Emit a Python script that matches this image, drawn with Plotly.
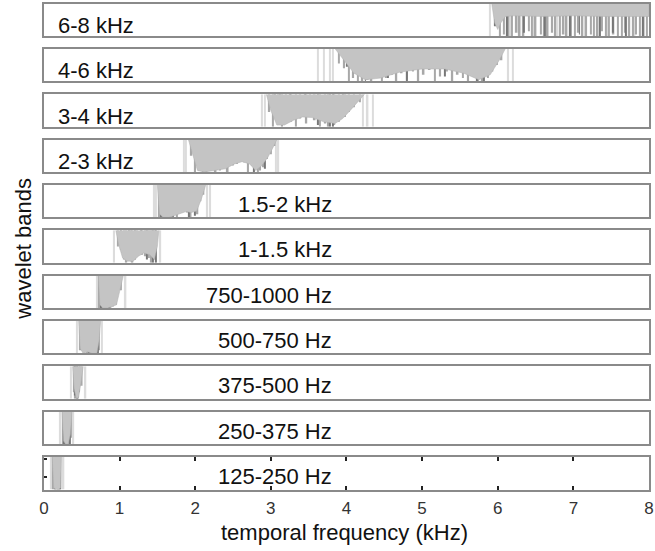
import plotly.graph_objects as go

# ---------------- data ----------------
band_labels = ["6-8 kHz", "4-6 kHz", "3-4 kHz", "2-3 kHz", "1.5-2 kHz", "1-1.5 kHz",
               "750-1000 Hz", "500-750 Hz", "375-500 Hz", "250-375 Hz", "125-250 Hz"]

# envelope (lower boundary of the grey spectral mass, depth 0 = top of panel, 1 = bottom)
env_f = [
    [5.92, 5.96, 6.0, 6.04, 6.1, 6.2, 6.6, 7.0, 7.4, 7.8, 8.0, 8.0],
    [3.85, 3.95, 4.1, 4.25, 4.45, 4.7, 5.0, 5.3, 5.55, 5.75, 5.9, 6.02, 6.1],
    [2.94, 3.0, 3.08, 3.18, 3.3, 3.42, 3.55, 3.7, 3.85, 3.95, 4.05, 4.15, 4.24],
    [1.91, 1.97, 2.03, 2.12, 2.25, 2.4, 2.52, 2.62, 2.72, 2.8, 2.88, 2.96, 3.04, 3.08],
    [1.5, 1.53, 1.58, 1.65, 1.72, 1.8, 1.88, 1.95, 2.02, 2.08, 2.14],
    [0.95, 0.99, 1.04, 1.1, 1.18, 1.25, 1.32, 1.4, 1.46, 1.5, 1.52],
    [0.72, 0.74, 0.78, 0.84, 0.9, 0.96, 1.0, 1.05],
    [0.46, 0.48, 0.52, 0.58, 0.64, 0.7, 0.73, 0.75],
    [0.38, 0.4, 0.43, 0.46, 0.49, 0.52],
    [0.24, 0.26, 0.29, 0.32, 0.35, 0.37],
    [0.11, 0.13, 0.16, 0.19, 0.22, 0.23],
]
env_d = [
    [0.0, 0.6, 0.8, 0.6, 0.4, 0.38, 0.4, 0.38, 0.4, 0.4, 0.4, 0.0],
    [0.0, 0.3, 0.75, 0.95, 0.9, 0.72, 0.62, 0.62, 0.75, 0.95, 0.8, 0.35, 0.0],
    [0.0, 0.5, 0.95, 0.95, 0.8, 0.7, 0.72, 0.85, 0.9, 0.75, 0.5, 0.25, 0.0],
    [0.0, 0.5, 0.95, 1.0, 0.95, 0.9, 0.75, 0.68, 0.75, 0.95, 0.8, 0.55, 0.2, 0.0],
    [0.0, 0.9, 1.0, 1.0, 0.95, 0.88, 0.82, 0.85, 0.8, 0.45, 0.0],
    [0.0, 0.45, 0.85, 0.95, 0.95, 0.8, 0.7, 0.75, 0.9, 0.5, 0.0],
    [0.0, 0.9, 1.0, 1.0, 0.95, 0.9, 0.5, 0.0],
    [0.0, 0.85, 1.0, 0.95, 1.0, 1.0, 0.6, 0.0],
    [0.0, 0.7, 1.0, 0.95, 0.5, 0.0],
    [0.0, 0.9, 1.0, 1.0, 0.7, 0.0],
    [0.0, 0.95, 1.0, 1.0, 0.95, 0.0],
]

# medium-grey spectral lines (frequency in kHz, depth)
mid_f = [
    [6.03, 6.08, 6.14, 6.19, 6.25, 6.29, 6.34, 6.41, 6.45, 6.5, 6.57, 6.61, 6.66, 6.72, 6.76,
     6.82, 6.87, 6.91, 6.97, 7.02, 7.07, 7.12, 7.17, 7.23, 7.27, 7.32, 7.38, 7.43, 7.47, 7.53,
     7.59, 7.64, 7.68, 7.74, 7.79, 7.83, 7.88, 7.93, 7.97],
    [3.9, 3.97, 4.03, 4.09, 4.15, 4.21, 4.28, 4.33, 4.4, 4.47, 4.52, 4.6, 4.66, 4.73, 4.8,
     4.88, 4.95, 5.02, 5.1, 5.17, 5.24, 5.33, 5.4, 5.47, 5.54, 5.61, 5.68, 5.74, 5.8, 5.87,
     5.93, 5.99, 6.05],
    [2.98, 3.03, 3.1, 3.15, 3.2, 3.27, 3.33, 3.39, 3.47, 3.52, 3.58, 3.65, 3.72, 3.76, 3.84,
     3.9, 3.98, 4.03, 4.1, 4.18],
    [1.95, 2.0, 2.06, 2.1, 2.15, 2.22, 2.27, 2.33, 2.38, 2.43, 2.5, 2.55, 2.65, 2.7, 2.75,
     2.83, 2.86, 2.9, 2.95, 3.0, 3.05],
    [1.52, 1.57, 1.6, 1.66, 1.68, 1.74, 1.76, 1.82, 1.9, 1.94, 1.98, 2.03, 2.07, 2.11],
    [0.98, 1.06, 1.09, 1.15, 1.17, 1.23, 1.3, 1.34, 1.39, 1.42, 1.47],
    [0.73, 0.77, 0.82, 0.88, 0.91, 0.95, 1.02],
    [0.48, 0.53, 0.57, 0.63, 0.68, 0.73],
    [0.4, 0.42, 0.45, 0.5],
    [0.26, 0.28, 0.31, 0.33, 0.36],
    [0.12, 0.15, 0.17, 0.2, 0.22],
]
mid_d = [
    [1.0, 0.95, 1.0, 1.0, 0.9, 1.0, 1.0, 0.85, 1.0, 1.0, 0.95, 1.0, 1.0, 0.9, 1.0,
     1.0, 0.95, 1.0, 1.0, 1.0, 0.9, 1.0, 1.0, 0.95, 1.0, 1.0, 0.85, 1.0, 1.0, 0.95,
     1.0, 1.0, 0.9, 1.0, 1.0, 0.95, 1.0, 1.0, 1.0],
    [0.45, 0.6, 1.0, 0.9, 1.0, 1.0, 0.95, 1.0, 0.85, 1.0, 0.9, 0.8, 1.0, 0.75, 0.95,
     0.7, 1.0, 0.8, 0.65, 1.0, 0.85, 0.7, 1.0, 0.8, 0.9, 1.0, 0.85, 1.0, 1.0, 0.9,
     0.7, 0.5, 0.35],
    [0.55, 1.0, 0.95, 1.0, 0.9, 0.85, 1.0, 0.75, 0.9, 0.7, 0.8, 1.0, 0.9, 1.0, 0.95,
     0.85, 0.7, 0.55, 0.4, 0.25],
    [0.5, 1.0, 0.95, 1.0, 1.0, 0.9, 1.0, 0.95, 0.85, 1.0, 0.8, 0.75, 0.7, 1.0, 0.8,
     1.0, 0.95, 0.85, 0.6, 0.45, 0.2],
    [1.0, 1.0, 0.95, 1.0, 1.0, 0.9, 1.0, 0.85, 0.85, 1.0, 0.8, 0.9, 0.5, 0.3],
    [0.5, 0.9, 1.0, 0.95, 1.0, 0.8, 0.75, 0.8, 0.85, 1.0, 0.9],
    [1.0, 1.0, 1.0, 1.0, 0.95, 0.9, 0.45],
    [0.9, 1.0, 1.0, 1.0, 1.0, 0.9],
    [0.8, 1.0, 1.0, 0.6],
    [1.0, 1.0, 1.0, 1.0, 0.8],
    [1.0, 1.0, 1.0, 1.0, 1.0],
]

# dark spectral lines
dark_f = [
    [5.96, 6.12, 6.35, 6.62, 6.95, 7.08, 7.35, 7.52, 7.7, 7.92],
    [4.0, 4.25, 4.55, 4.8, 5.05, 5.3, 5.5, 5.72, 5.82, 5.95],
    [3.05, 3.12, 3.25, 3.45, 3.62, 3.78, 3.82, 3.95],
    [2.05, 2.18, 2.3, 2.45, 2.6, 2.78, 2.92],
    [1.55, 1.62, 1.7, 1.78, 1.85, 1.92, 2.0, 2.05],
    [1.02, 1.12, 1.2, 1.28, 1.36, 1.44, 1.48],
    [0.75, 0.8, 0.86, 0.93, 0.98],
    [0.5, 0.55, 0.6, 0.66, 0.71],
    [0.41, 0.44, 0.47],
    [0.27, 0.3, 0.34],
    [0.14, 0.18, 0.21],
]
dark_d = [
    [0.7, 1.0, 0.9, 1.0, 1.0, 0.95, 1.0, 0.9, 1.0, 1.0],
    [0.55, 1.0, 0.9, 1.0, 0.6, 0.85, 0.7, 1.0, 1.0, 0.5],
    [0.7, 0.9, 0.5, 0.6, 0.95, 1.0, 1.0, 0.7],
    [0.8, 0.6, 0.9, 0.7, 0.5, 1.0, 0.9],
    [1.0, 0.9, 1.0, 0.7, 0.6, 1.0, 0.95, 0.4],
    [0.6, 0.8, 0.9, 0.5, 0.9, 1.0, 1.0],
    [1.0, 0.95, 1.0, 0.9, 0.4],
    [0.9, 0.8, 1.0, 1.0, 1.0],
    [0.9, 1.0, 0.8],
    [1.0, 0.9, 1.0],
    [1.0, 1.0, 1.0],
]

# faint full-depth lines flanking each band
faint_f = [
    [5.9, 6.16, 6.47, 6.79, 7.15, 7.45, 7.81],
    [3.62, 3.7, 3.78, 3.82, 6.14, 6.2],
    [2.88, 2.92, 4.22, 4.28, 4.35],
    [1.85, 1.88, 3.07, 3.1],
    [1.46, 1.48, 2.16, 2.2],
    [0.93, 1.54],
    [0.7, 1.08],
    [0.44, 0.77],
    [0.36, 0.55],
    [0.22, 0.39],
    [0.09, 0.26],
]

x_ticks = [0, 1, 2, 3, 4, 5, 6, 7, 8]
x_title = "temporal frequency (kHz)"
y_title = "wavelet bands"

# ---------------- layout ----------------
W, H = 655, 551
FONT = "Liberation Sans, Arial, sans-serif"
x_dom = [39.5 / W, 654 / W]
n_b = len(band_labels)
top0, pitch, ph = 3.5, 45.35, 32.5

fig = go.Figure()
layout = dict(width=W, height=H, margin=dict(l=0, r=0, t=0, b=0),
              paper_bgcolor="white", plot_bgcolor="white",
              showlegend=False, barmode="overlay", font=dict(family=FONT, color="#222"))
annotations = []
for i in range(n_b):
    n = i + 1
    xs = "" if n == 1 else str(n)
    xa, ya = "x" + xs, "y" + xs
    fig.add_trace(go.Bar(x=faint_f[i], y=[1] * len(faint_f[i]), base=0, width=0.02,
                         marker=dict(color="#dcdcdc", line=dict(width=0)),
                         xaxis=xa, yaxis=ya, hoverinfo="skip"))
    fig.add_trace(go.Scatter(x=env_f[i], y=env_d[i], mode="lines", fill="toself",
                             fillcolor="#c4c4c4", line=dict(width=0.5, color="#b0b0b0"),
                             xaxis=xa, yaxis=ya, hoverinfo="skip"))
    fig.add_trace(go.Bar(x=mid_f[i], y=mid_d[i], base=0, width=0.022,
                         marker=dict(color="#a8a8a8", line=dict(width=0)),
                         xaxis=xa, yaxis=ya, hoverinfo="skip"))
    fig.add_trace(go.Bar(x=dark_f[i], y=dark_d[i], base=0, width=0.012,
                         marker=dict(color="#777777", line=dict(width=0)),
                         xaxis=xa, yaxis=ya, hoverinfo="skip"))

    t = top0 + pitch * i
    b = t + ph
    last = (n == n_b)
    layout["xaxis" + xs] = dict(domain=x_dom, range=[0, 8], anchor=ya,
                                showline=True, mirror="ticks" if last else True,
                                linecolor="#8a8a8a", linewidth=1.5,
                                showgrid=False, zeroline=False,
                                ticks="inside" if last else "", tickvals=x_ticks,
                                ticklen=4, tickwidth=1.5, tickcolor="#222",
                                showticklabels=last, ticklabeloverflow="allow",
                                ticklabelstandoff=2,
                                tickfont=dict(size=17, color="#333", family=FONT))
    layout["yaxis" + xs] = dict(domain=[1 - b / H, 1 - t / H], range=[1, 0], anchor=xa,
                                showline=True, mirror=True, linecolor="#8a8a8a", linewidth=1.5,
                                showgrid=False, zeroline=False, showticklabels=False,
                                ticks="inside", tickvals=[0.05, 0.6, 0.98] if last else [0.98],
                                ticklen=3, tickwidth=1.5, tickcolor="#222")
    if i < 4:
        annotations.append(dict(text=band_labels[i], x=0.16, xref=xa, xanchor="left",
                                y=0.32, yref=ya + " domain", yanchor="middle",
                                showarrow=False, font=dict(size=22, color="#111", family=FONT)))
    else:
        annotations.append(dict(text=band_labels[i], x=3.84, xref=xa, xanchor="right",
                                y=0.4, yref=ya + " domain", yanchor="middle",
                                showarrow=False, font=dict(size=22, color="#111", family=FONT)))

annotations.append(dict(text=x_title, x=345 / W, y=1 - 532 / H, xref="paper", yref="paper",
                        xanchor="center", yanchor="middle", showarrow=False,
                        font=dict(size=22, color="#111", family=FONT)))
annotations.append(dict(text=y_title, x=18 / W, y=1 - 249 / H, xref="paper", yref="paper",
                        xanchor="center", yanchor="middle", textangle=-90, showarrow=False,
                        font=dict(size=22, color="#111", family=FONT)))
layout["annotations"] = annotations
fig.update_layout(**layout)
fig.write_html("out.html", config={"displayModeBar": False},
               post_script="document.body.style.margin='0';")
